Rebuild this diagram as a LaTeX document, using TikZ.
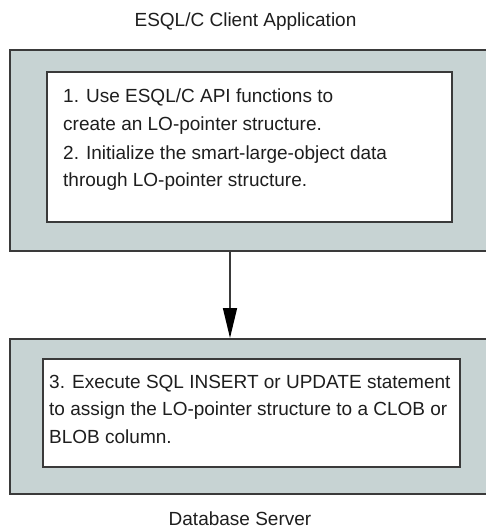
\documentclass[tikz,border=0pt]{standalone}
\usepackage{fontspec}
\setmainfont{Liberation Sans}
\usetikzlibrary{arrows.meta}
\definecolor{boxfill}{HTML}{C7D3D3}
\definecolor{edge}{HTML}{3A3A3A}
\definecolor{ink}{HTML}{1E1E1E}
\begin{document}
\begin{tikzpicture}[x=1pt,y=-1pt,
  outerbox/.style={draw=edge,line width=2pt,fill=boxfill,rectangle,inner sep=0pt,anchor=north west},
  innerbox/.style={draw=edge,line width=2pt,fill=white,rectangle,inner sep=0pt,anchor=north west},
  label/.style={text=ink,font=\fontsize{19}{19}\selectfont,inner sep=0pt,anchor=base},
  body/.style={text=ink,align=left,inner sep=0pt,anchor=base west},
  flow/.style={draw=edge,line width=1.6pt,-{Triangle[width=14pt,length=30pt,color=black]}}]
\clip (0,0) rectangle (486,529);
\fill[white] (0,0) rectangle (486,529);
\node[outerbox,minimum width=495pt,minimum height=201pt] (client) at (9,49) {};
\node[innerbox,minimum width=405pt,minimum height=150pt] (inner1) at (46,71) {};
\node[outerbox,minimum width=495pt,minimum height=155pt] (server) at (9,338) {};
\node[innerbox,minimum width=417pt,minimum height=108pt] (inner2) at (42,358) {};
\coordinate (ax) at (230,0);
\draw[flow] (client.south -| ax) -- (server.north -| ax);
\node[label] (title) at (245.5,27) {ESQL/C Client Application};
\node[label] (dbs) at (240,525) {Database Server};
\node[body,font=\fontsize{19}{28}\selectfont] (t1) at (63,187) {1. Use ESQL/C API functions to\\create an LO-pointer structure.\\2. Initialize the smart-large-object data\\through LO-pointer structure.};
\node[body,font=\fontsize{19}{27.5}\selectfont] (t2) at (49,443) {3. Execute SQL INSERT or UPDATE statement\\to assign the LO-pointer structure to a CLOB or\\BLOB column.};
\end{tikzpicture}
\end{document}
